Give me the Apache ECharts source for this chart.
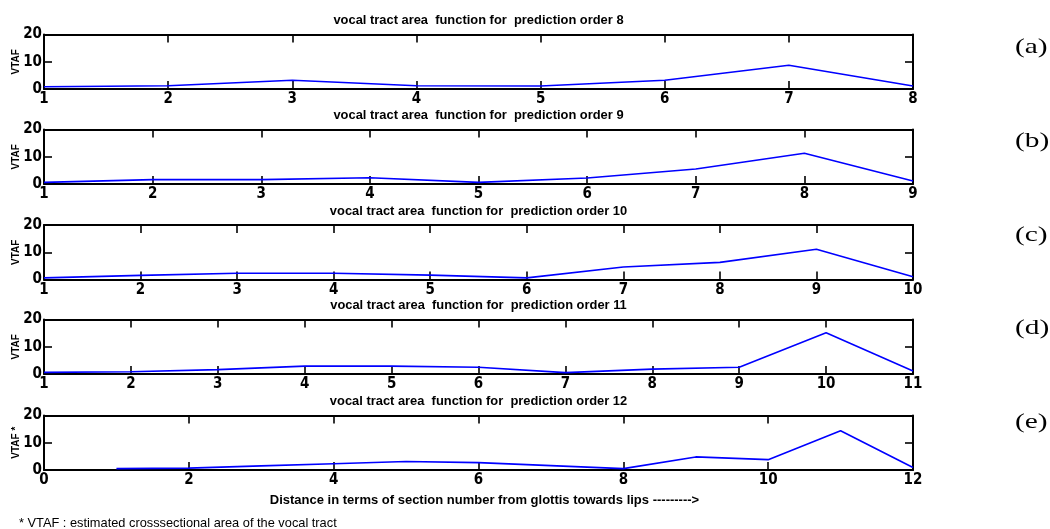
<!DOCTYPE html>
<html>
<head>
<meta charset="utf-8">
<style>
  html, body { margin: 0; padding: 0; background: #fff; }
  #chart { width: 1050px; height: 529px; }
</style>
<script src="https://cdn.jsdelivr.net/npm/echarts@6/dist/echarts.min.js"></script>
</head>
<body>
<div id="chart"></div>
<script>
// ---- data ----
const order8  = [0.8, 1.2, 3.2, 1.2, 1.1, 3.2, 8.7, 1.1];
const order9  = [0.6, 1.6, 1.6, 2.3, 0.6, 2.2, 5.5, 11.3, 1.1];
const order10 = [0.6, 1.5, 2.3, 2.3, 1.6, 0.6, 4.6, 6.3, 11.1, 1.0];
const order11 = [0.6, 0.8, 1.6, 2.9, 2.9, 2.5, 0.5, 1.8, 2.5, 15.1, 1.1];
const order12 = [0.5, 0.7, 1.5, 2.3, 3.1, 2.7, 1.6, 0.5, 4.8, 3.8, 14.4, 0.9];
const panelTitles = [
  'vocal tract area  function for  prediction order 8',
  'vocal tract area  function for  prediction order 9',
  'vocal tract area  function for  prediction order 10',
  'vocal tract area  function for  prediction order 11',
  'vocal tract area  function for  prediction order 12'
];
const panelTags = ['(a)', '(b)', '(c)', '(d)', '(e)'];
const yNames = ['VTAF', 'VTAF', 'VTAF', 'VTAF', 'VTAF *'];
const xRanges = [[1, 8, 1], [1, 9, 1], [1, 10, 1], [1, 11, 1], [0, 12, 2]];
const yRange = [0, 20, 10];
const xAxisTitle = 'Distance in terms of section number from glottis towards lips --------->';
const footnote = '* VTAF : estimated crosssectional area of the vocal tract';

const seriesData = [order8, order9, order10, order11, order12];

// ---- layout ----
const gridLeft = 44, gridWidth = 869, gridHeight = 54.5;
const gridTops = [34.5, 129.5, 225, 319.5, 415.5];
const tagCenters = [47, 141, 235, 328, 422];
const narrow = '"Liberation Sans Narrow", "Arial Narrow", "DejaVu Sans Condensed", sans-serif';
const sans = '"Liberation Sans", Arial, sans-serif';

const grids = [], xAxes = [], yAxes = [], series = [], titles = [], graphics = [];
const lineCommon = { show: true, onZero: false, lineStyle: { color: '#000', width: 2 } };
const tickCommon = { show: true, inside: true, length: 8, lineStyle: { color: '#000', width: 1.6 } };

gridTops.forEach((top, i) => {
  grids.push({ left: gridLeft, top: top, width: gridWidth, height: gridHeight,
    containLabel: false, outerBoundsMode: 'none' });
  const [xmin, xmax, xint] = xRanges[i];
  const xb = {
    type: 'value', gridIndex: i, position: 'bottom', min: xmin, max: xmax, interval: xint,
    axisLine: lineCommon, axisTick: tickCommon, splitLine: { show: false },
    axisLabel: { show: true, showMinLabel: true, showMaxLabel: true, color: '#000', fontFamily: narrow,
      fontWeight: 'bold', fontSize: 15, margin: 3 }
  };
  if (i === 4) {
    xb.name = xAxisTitle;
    xb.nameLocation = 'middle';
    xb.nameGap = 24;
    xb.nameMoveOverlap = false;
    xb.nameTextStyle = { color: '#000', fontFamily: sans, fontWeight: 'bold', fontSize: 13,
      padding: [0, 0, 0, 12] };
  }
  xAxes.push(xb);
  xAxes.push({
    type: 'value', gridIndex: i, position: 'top', min: xmin, max: xmax, interval: xint,
    axisLine: lineCommon, axisTick: tickCommon, axisLabel: { show: false }, splitLine: { show: false }
  });
  yAxes.push({
    type: 'value', gridIndex: i, position: 'left', min: yRange[0], max: yRange[1], interval: yRange[2],
    axisLine: lineCommon, axisTick: tickCommon, splitLine: { show: false },
    axisLabel: { color: '#000', fontFamily: narrow, fontWeight: 'bold', fontSize: 15, margin: 2 },
    name: yNames[i], nameLocation: 'middle', nameGap: 23, nameRotate: 90, nameMoveOverlap: false,
    nameTextStyle: { color: '#000', fontFamily: sans, fontWeight: 'bold', fontSize: 10 }
  });
  yAxes.push({
    type: 'value', gridIndex: i, position: 'right', min: yRange[0], max: yRange[1], interval: yRange[2],
    axisLine: lineCommon, axisTick: tickCommon, axisLabel: { show: false }, splitLine: { show: false }
  });
  series.push({
    type: 'line', xAxisIndex: i * 2, yAxisIndex: i * 2, showSymbol: false, symbol: 'none',
    lineStyle: { color: '#0000ff', width: 1.6 }, animation: false, z: 1,
    data: seriesData[i].map((v, k) => [k + 1, v])
  });
  titles.push({
    text: panelTitles[i], left: gridLeft + gridWidth / 2, top: top - 21, textAlign: 'center', padding: 0,
    textStyle: { color: '#000', fontFamily: sans, fontWeight: 'bold', fontSize: 12.9, lineHeight: 14 }
  });
  graphics.push({
    type: 'text', x: 1015, y: tagCenters[i], scaleX: 1.4, scaleY: 1,
    style: { text: panelTags[i], fill: '#000', font: '21px "Liberation Serif", "Times New Roman", serif',
      verticalAlign: 'middle', textVerticalAlign: 'middle' }
  });
});

titles.push({
  text: footnote, left: 19, top: 516, padding: 0,
  textStyle: { color: '#000', fontFamily: sans, fontWeight: 'normal', fontSize: 12.8, lineHeight: 15 }
});

const chart = echarts.init(document.getElementById('chart'), null, { renderer: 'canvas' });
chart.setOption({
  animation: false,
  backgroundColor: '#fff',
  title: titles,
  grid: grids,
  xAxis: xAxes,
  yAxis: yAxes,
  series: series,
  graphic: graphics
});
</script>
</body>
</html>
